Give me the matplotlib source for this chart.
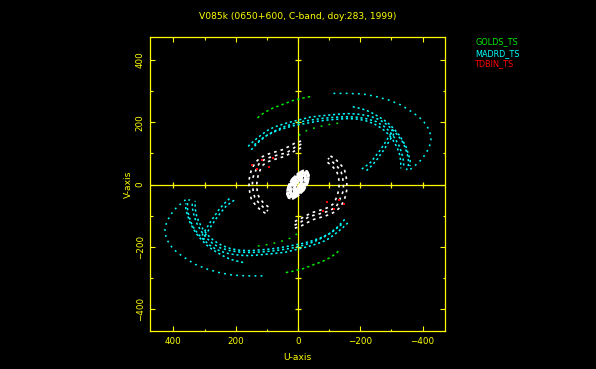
import matplotlib
matplotlib.use("Agg")
import matplotlib.pyplot as plt

# ---------------- data (u, v in kilo-lambda) -------------
title = "V085k (0650+600, C-band, doy:283, 1999)"
legend_names = ["GOLDS_TS", "MADRD_TS", "TDBIN_TS"]
xticks = [400, 200, 0, -200, -400]
yticks = [-400, -200, 0, 200, 400]

# MADRD (cyan) tracks, one half; the conjugate half is (-u, -v)
madrd_outer_u = [-114, -160, -208, -250, -293, -330, -357, -382, -400, -413, -421, -426,
                 -427, -423, -416, -408, -400, -385, -368, -352]
madrd_outer_v = [293, 293, 291, 283, 271, 256, 239, 222, 207, 190, 175, 158,
                 143, 126, 110, 97, 84, 69, 55, 41]

madrd_band1_u = [160, 145, 130, 113, 96, 80, 64, 48, 32, 16, 0, -20, -40, -58, -75, -96,
                 -117, -140, -160, -182, -203, -225, -245, -262, -277, -289, -299, -310,
                 -320, -328, -336, -342, -347, -351, -354, -355, -354, -348]
madrd_band1_v = [123, 137, 150, 163, 175, 183, 189, 194, 199, 203, 207, 212, 217, 219, 221,
                 223, 225, 227, 228, 227, 225, 221, 215, 208, 199, 190, 180, 170, 159, 148,
                 137, 124, 110, 97, 84, 70, 57, 47]

madrd_band2_u = [150, 125, 100, 70, 40, 10, -27, -60, -91, -125, -155, -185, -215, -245,
                 -270, -290, -305, -318, -326, -330, -330]
madrd_band2_v = [112, 138, 158, 172, 182, 190, 197, 203, 207, 210, 212, 211, 206, 195,
                 180, 162, 143, 120, 98, 75, 52]

madrd_band3_u = [-176, -198, -219, -240, -261, -278, -293, -310, -325, -337, -347, -354,
                 -360, -360]
madrd_band3_v = [250, 245, 239, 229, 217, 206, 194, 177, 159, 140, 121, 100, 78, 60]

madrd_band4_u = [140, 110, 80, 50, 20, -10, -45, -80, -115, -150, -185, -218, -250, -275,
                 -295, -311, -324, -333, -338, -340]
madrd_band4_v = [128, 152, 170, 184, 194, 202, 208, 213, 216, 218, 217, 212, 203, 188,
                 170, 149, 126, 102, 80, 58]

madrd_cross1_u = [-205, -215, -229, -240, -251, -262, -272, -282, -291, -299, -303]
madrd_cross1_v = [50, 58, 67, 80, 94, 108, 123, 138, 153, 165, 178]

madrd_cross2_u = [-220, -232, -243, -255, -265, -276, -286, -295, -305, -312]
madrd_cross2_v = [45, 56, 68, 82, 97, 112, 128, 143, 158, 172]

# GOLDS (green) tracks
golds_outer_u = [130, 118, 107, 94, 80, 64, 48, 32, 16, 0, -16, -30, -45]
golds_outer_v = [214, 224, 232, 239, 246, 252, 258, 264, 270, 274, 278, 281, 283]

golds_inner_u = [-3, -20, -40, -60, -80, -101, -120, -139]
golds_inner_v = [158, 170, 178, 184, 189, 193, 196, 198]

# TDBIN (red) points
tdbin_u = [149, 117, 80, 93, 131]
tdbin_v = [62, 78, 84, 57, 50]

# other (white) tracks
ring_mid_u = [-11, 5, 20, 37, 53, 69, 85, 101, 113, 123, 130, 135, 140, 144, 146, 146,
              145, 144, 142, 139, 134, 128, 120, 112, 104, 96]
ring_mid_v = [130, 123, 113, 102, 98, 94, 89, 84, 77, 70, 58, 46, 35, 24, 12, 3, -8, -18,
              -29, -40, -48, -56, -64, -72, -79, -85]
ring_out_u = [-10, 10, 30, 50, 70, 90, 108, 122, 134, 143, 150, 154, 157, 157, 156, 154,
              150, 143, 134, 124, 112, 100]
ring_out_v = [140, 133, 122, 112, 106, 100, 93, 85, 74, 60, 45, 30, 15, 0, -15, -30, -45,
              -57, -68, -78, -87, -95]
ring_in_u = [-10, 8, 25, 45, 65, 85, 100, 112, 120, 126, 130, 132, 132, 130, 126, 120,
             112, 102, 92]
ring_in_v = [118, 110, 100, 90, 84, 78, 72, 63, 50, 36, 20, 5, -10, -25, -38, -48, -57,
             -66, -74]

blob_out_u = [-30, -17, 0, 18, 30, 34, 29, 16, 0, -18, -30, -34, -30]
blob_out_v = [38, 38, 28, 11, -11, -30, -42, -44, -34, -17, 5, 24, 38]
blob_mid_u = [-24, -13, 0, 12, 21, 24, 22, 12, 0, -12, -21, -24, -24]
blob_mid_v = [29, 29, 21, 7, -9, -23, -33, -34, -26, -12, 4, 18, 29]
blob_in_u = [-14, -6, 2, 9, 13, 12, 4, -4, -10, -14]
blob_in_v = [18, 17, 8, -4, -16, -24, -18, -6, 6, 18]

# ---------------- figure -------------------------------------------------------
YEL = "#ffff00"
CYA = "#00ffff"
GRN = "#00ee00"
RED = "#ff0000"
WHT = "#ffffff"

W, H = 596, 369
fig = plt.figure(figsize=(W / 100, H / 100), dpi=100, facecolor="black")
ax = fig.add_axes([150.3 / W, 1 - 331.3 / H, 295 / W, 294.3 / H], facecolor="black")

# crosshair
ax.axhline(0, color=YEL, lw=0.9, zorder=1)
ax.axvline(0, color=YEL, lw=0.9, zorder=1)
cross_ticks = [-400, -300, -200, -100, 100, 200, 300, 400]
ax.plot(cross_ticks, [0] * len(cross_ticks), ls="none", marker="|", ms=4.5, mew=0.9,
        color=YEL, zorder=1)
ax.plot([0] * len(cross_ticks), cross_ticks, ls="none", marker="_", ms=4.5, mew=0.9,
        color=YEL, zorder=1)


def track(u, v, color, lw=1.0, dash=(1.3, 1.8)):
    for sgn in (1, -1):
        ax.plot([sgn * a for a in u], [sgn * b for b in v], color=color, lw=lw,
                ls=(0, dash), solid_capstyle="butt", dash_capstyle="butt", zorder=3)


# white tracks
for u, v in [(ring_mid_u, ring_mid_v), (ring_out_u, ring_out_v), (ring_in_u, ring_in_v)]:
    track(u, v, WHT, lw=1.2, dash=(1.6, 2.4))
for u, v in [(blob_out_u, blob_out_v), (blob_mid_u, blob_mid_v), (blob_in_u, blob_in_v)]:
    track(u, v, WHT, lw=2.0, dash=(3, 0.5))

# cyan tracks
track(madrd_outer_u, madrd_outer_v, CYA, lw=1.1, dash=(1.2, 2.8))
for u, v in [(madrd_band1_u, madrd_band1_v), (madrd_band2_u, madrd_band2_v),
             (madrd_band3_u, madrd_band3_v), (madrd_band4_u, madrd_band4_v),
             (madrd_cross1_u, madrd_cross1_v), (madrd_cross2_u, madrd_cross2_v)]:
    track(u, v, CYA, lw=1.1, dash=(1.4, 1.8))

# green tracks
track(golds_outer_u, golds_outer_v, GRN, lw=1.1, dash=(1.6, 2.0))
track(golds_inner_u, golds_inner_v, GRN, lw=1.1, dash=(1.2, 4.0))

# red points
for sgn in (1, -1):
    ax.plot([sgn * a for a in tdbin_u], [sgn * b for b in tdbin_v], ls="none",
            marker="s", ms=1.6, mew=0, color=RED, zorder=4)

# axes styling
ax.set_xlim(474, -473)
ax.set_ylim(-471, 474)
ax.set_xticks(xticks)
ax.set_yticks(yticks)
ax.set_xticks([300, 100, -100, -300], minor=True)
ax.set_yticks([-300, -100, 100, 300], minor=True)
for s in ax.spines.values():
    s.set_color(YEL)
    s.set_linewidth(0.9)
ax.tick_params(which="both", direction="in", color=YEL, width=0.8, top=True, right=True,
               labelcolor=YEL, labelsize=6.3)
ax.tick_params(which="major", length=3.4, pad=4)
ax.tick_params(which="minor", length=1.8)
ax.tick_params(axis="y", labelrotation=90)
for lab in ax.get_yticklabels():
    lab.set_va("center")

fig.text(298 / W, 1 - 16.5 / H, title, color=YEL, fontsize=6.6, ha="center", va="center")
fig.text(297.5 / W, 1 - 358 / H, "U-axis", color=YEL, fontsize=6.6, ha="center", va="center")
fig.text(128 / W, 1 - 184 / H, "V-axis", color=YEL, fontsize=6.6, ha="center", va="center",
         rotation=90)
for name, col, yy in zip(legend_names, [GRN, CYA, RED], [42, 54, 63.5]):
    fig.text(475 / W, 1 - yy / H, name, color=col, fontsize=5.9, ha="left", va="center")

fig.savefig("out.png", dpi=100, facecolor="black")
